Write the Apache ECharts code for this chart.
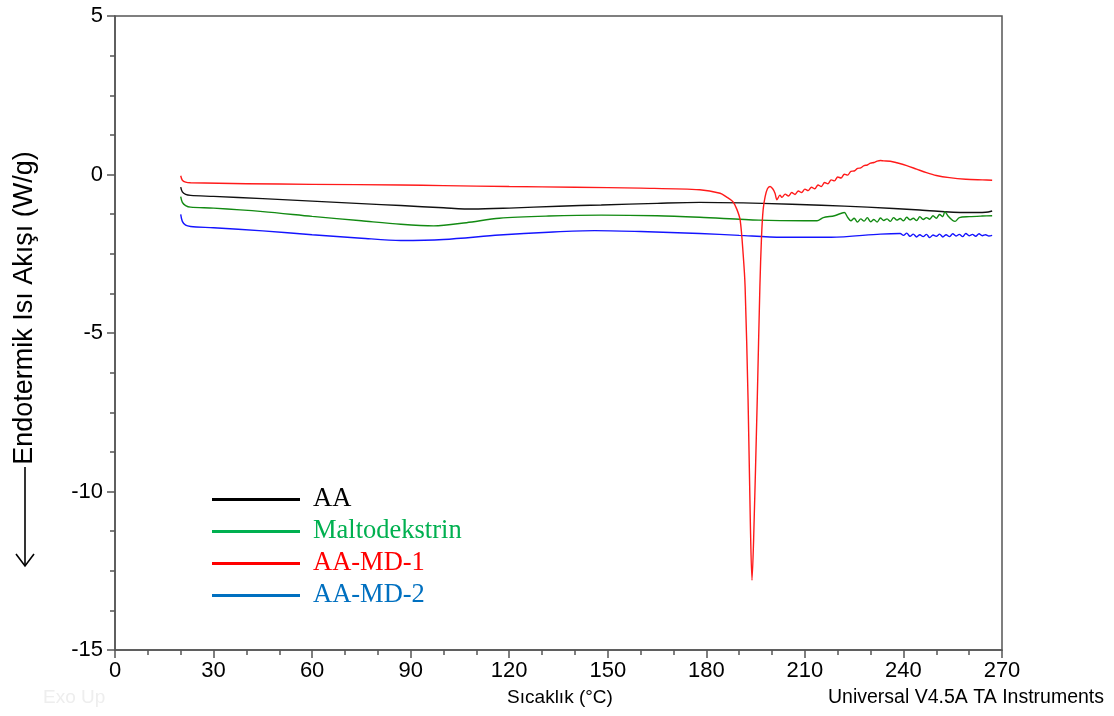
<!DOCTYPE html>
<html>
<head>
<meta charset="utf-8">
<script src="https://cdn.jsdelivr.net/npm/echarts@6/dist/echarts.min.js"></script>
<style>
  html, body { margin: 0; padding: 0; background: #fff; }
  #chart { width: 1114px; height: 716px; }
</style>
</head>
<body>
<div id="chart"></div>
<script>
// DSC eğrileri: [sıcaklık °C, ısı akışı W/g]
const seriesNames = ['AA', 'Maltodekstrin', 'AA-MD-1', 'AA-MD-2']
const lineColors = ['#111111', '#128a12', '#ff1a1a', '#1414ff']
const legendColors = ['#000000', '#00b050', '#ff0000', '#0070c0']

const aaData = [
  [20, -0.40], [20.5, -0.55], [21.5, -0.63], [23, -0.66], [30, -0.69], [45, -0.76],
  [60, -0.84], [75, -0.92], [87, -0.98], [100, -1.05], [109, -1.09], [120, -1.06],
  [135, -1.00], [148, -0.96], [165, -0.91], [178, -0.88], [197, -0.91], [215, -0.97],
  [229, -1.03], [245, -1.12], [259, -1.20], [265, -1.19], [267, -1.15]
]

const maltoData = [
  [20, -0.70], [20.5, -0.88], [21.5, -0.98], [23, -1.03], [30, -1.06], [45, -1.17],
  [60, -1.32], [75, -1.46], [87, -1.57], [97, -1.62], [107, -1.52], [117, -1.38],
  [132, -1.31], [148, -1.28], [165, -1.30], [178, -1.35], [196, -1.44], [210, -1.46],
  [213.7, -1.46], [215.6, -1.36], [219, -1.30], [222, -1.20], [223, -1.35],
  [224, -1.46], [225, -1.38], [226, -1.50], [227, -1.40], [228, -1.47], [229, -1.36],
  [230, -1.49], [231, -1.42], [232, -1.50], [233, -1.37], [234, -1.45], [235, -1.40],
  [236, -1.48], [237, -1.36], [238, -1.44], [239, -1.39], [240, -1.46], [241, -1.35],
  [242, -1.43], [243, -1.38], [244, -1.45], [245, -1.33], [246, -1.42], [247, -1.36],
  [248, -1.41], [249, -1.30], [250, -1.38], [251, -1.26], [252, -1.33], [252.6, -1.17],
  [253.5, -1.30], [255, -1.45], [255.7, -1.48], [257, -1.36], [260, -1.33], [264, -1.31],
  [267, -1.30]
]

const md1Data = [
  [20, -0.04], [20.5, -0.18], [21.5, -0.24], [23, -0.26], [40, -0.29], [60, -0.31],
  [87, -0.33], [100, -0.35], [120, -0.38], [140, -0.40], [160, -0.43], [178, -0.48],
  [184.2, -0.59], [186, -0.70], [188.1, -0.86], [189.3, -1.10], [190.3, -1.44],
  [191.2, -2.50], [191.8, -3.54], [192.7, -7.10], [193.4, -11.0], [193.9, -12.8],
  [194.4, -11.5], [195.5, -7.10], [196.3, -3.54], [196.8, -1.96], [197.3, -1.10],
  [197.9, -0.70], [198.6, -0.45], [199.4, -0.38], [200.2, -0.45], [200.9, -0.59],
  [201.5, -0.80], [202.4, -0.65], [203, -0.72], [204, -0.62], [205, -0.68], [206, -0.57],
  [207, -0.63], [208, -0.52], [209, -0.57], [210, -0.46], [211, -0.51], [212, -0.40],
  [213, -0.45], [214, -0.33], [215, -0.38], [216, -0.25], [217, -0.29], [218, -0.17],
  [219, -0.20], [220, -0.08], [221, -0.11], [222, 0.01], [223, -0.02], [224, 0.10],
  [225, 0.11], [226, 0.19], [227, 0.21], [228, 0.28], [229, 0.30], [230, 0.36],
  [231, 0.38], [232, 0.42], [233, 0.44], [234, 0.43], [236, 0.42], [238, 0.37],
  [241, 0.28], [244, 0.17], [247, 0.06], [250, -0.03], [254, -0.10], [259, -0.15],
  [264, -0.17], [267, -0.18]
]

const md2Data = [
  [20, -1.26], [20.5, -1.48], [21.5, -1.60], [23, -1.64], [30, -1.68], [45, -1.78],
  [60, -1.90], [75, -2.01], [87, -2.08], [100, -2.05], [117, -1.91], [132, -1.82],
  [146, -1.77], [160, -1.80], [178, -1.86], [190, -1.92], [203, -1.98], [218, -1.98],
  [233, -1.88], [239, -1.86], [240, -1.92], [241, -1.85], [242, -1.95], [243, -1.88],
  [244, -1.97], [245, -1.90], [246, -1.96], [247, -1.89], [248, -1.99], [249, -1.91],
  [250, -1.95], [251, -1.88], [252, -1.97], [253, -1.90], [254, -1.96], [255, -1.87],
  [256, -1.94], [257, -1.89], [258, -1.96], [259, -1.86], [260, -1.93], [261, -1.89],
  [262, -1.95], [263, -1.87], [264, -1.93], [265, -1.90], [266, -1.94], [267, -1.92]
]

const allData = [aaData, maltoData, md1Data, md2Data]

const chart = echarts.init(document.getElementById('chart'))
const axisColor = '#555'

const option = {
  animation: false,
  backgroundColor: '#fff',
  grid: {
    left: 115, right: 112, top: 16, bottom: 66,
    show: true, borderColor: axisColor, borderWidth: 1.5
  },
  xAxis: {
    type: 'value',
    min: 0, max: 270, interval: 30,
    axisLine: { onZero: false, lineStyle: { color: axisColor, width: 1.5 } },
    axisTick: { length: 8, lineStyle: { color: axisColor, width: 1.5 } },
    minorTick: { show: true, splitNumber: 3, length: 5, lineStyle: { color: axisColor, width: 1.5 } },
    splitLine: { show: false },
    axisLabel: { color: '#000', fontFamily: 'Arial', fontSize: 22, margin: 10 }
  },
  yAxis: {
    type: 'value',
    min: -15, max: 5, interval: 5,
    axisLine: { show: true, onZero: false, lineStyle: { color: axisColor, width: 1.5 } },
    axisTick: { show: true, length: 8, lineStyle: { color: axisColor, width: 1.5 } },
    minorTick: { show: true, splitNumber: 4, length: 5, lineStyle: { color: axisColor, width: 1.5 } },
    splitLine: { show: false },
    axisLabel: { color: '#000', fontFamily: 'Arial', fontSize: 22, margin: 12 }
  },
  legend: {
    orient: 'vertical',
    left: 207, top: 481,
    icon: 'rect',
    itemWidth: 88, itemHeight: 3,
    itemGap: 5,
    selectedMode: false,
    data: seriesNames.map((name, i) => ({
      name,
      itemStyle: { color: legendColors[i] },
      textStyle: { color: legendColors[i] }
    })),
    textStyle: {
      fontFamily: 'Liberation Serif, Times New Roman, serif',
      fontSize: 26.5, lineHeight: 26,
      padding: [0, 0, 0, 8]
    }
  },
  series: seriesNames.map((name, i) => ({
    name,
    type: 'line',
    data: allData[i],
    showSymbol: false,
    symbol: 'none',
    smooth: 0.3,
    lineStyle: { color: lineColors[i], width: 1.4 },
    itemStyle: { color: lineColors[i] },
    z: i === 2 ? 3 : 2
  })),
  graphic: [
    {
      type: 'text', x: 25, y: 308, rotation: Math.PI / 2,
      style: {
        text: 'Endotermik Isı Akışı (W/g)', font: '27px Arial', fill: '#000',
        align: 'center', verticalAlign: 'middle'
      }
    },
    {
      type: 'polyline',
      shape: { points: [[25, 467], [25, 565]] },
      style: { stroke: '#000', lineWidth: 1.6 }
    },
    {
      type: 'polyline',
      shape: { points: [[16, 554], [25, 566], [34, 554]] },
      style: { stroke: '#000', lineWidth: 1.6, fill: null }
    },
    {
      type: 'text', x: 560, y: 698,
      style: { text: 'Sıcaklık (°C)', font: '19px Arial', fill: '#000', align: 'center', verticalAlign: 'middle' }
    },
    {
      type: 'text', x: 1104, y: 698,
      style: { text: 'Universal V4.5A TA Instruments', font: '19.5px Arial', fill: '#000', align: 'right', verticalAlign: 'middle' }
    },
    {
      type: 'text', x: 43, y: 698,
      style: { text: 'Exo Up', font: '19px Arial', fill: '#eeeeee', align: 'left', verticalAlign: 'middle' }
    }
  ]
}

chart.setOption(option)
</script>
</body>
</html>
